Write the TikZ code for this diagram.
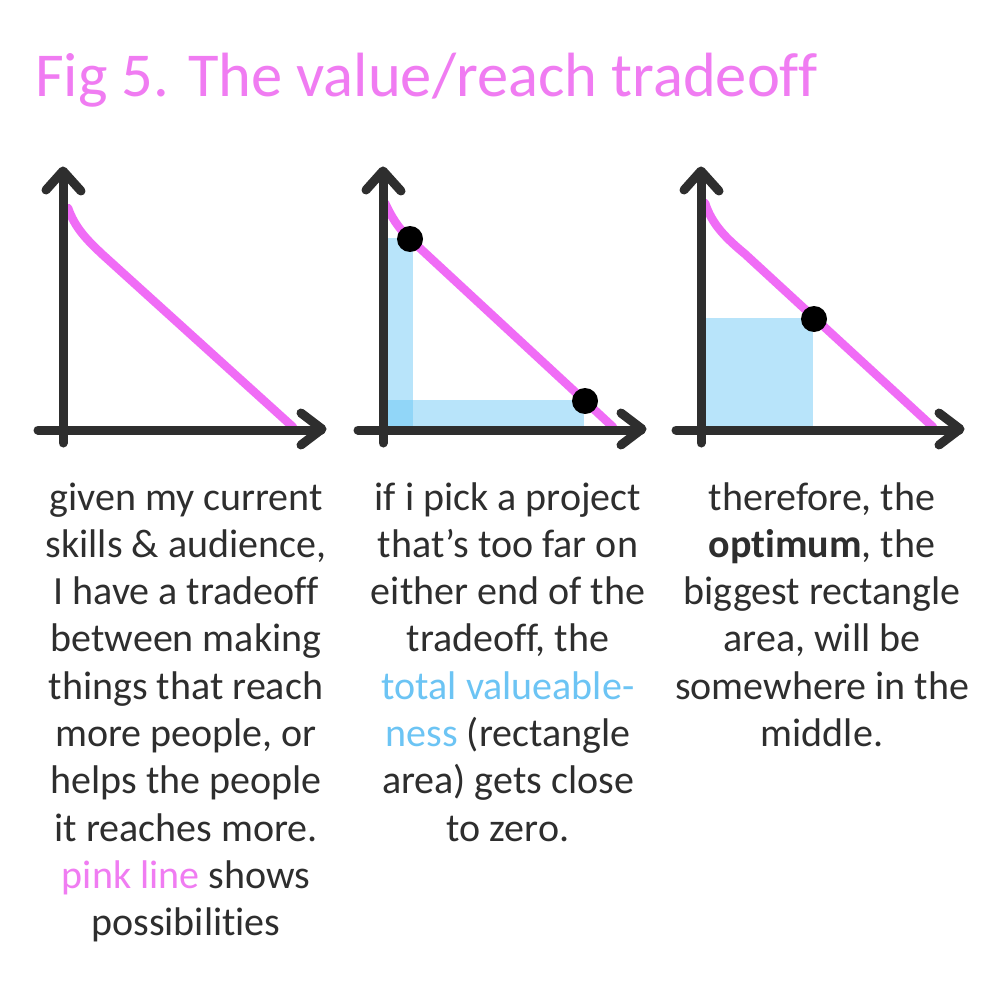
\documentclass[tikz,border=0pt]{standalone}
\usepackage{fontspec}
\setmainfont[Ligatures=NoCommon]{Carlito}
\definecolor{ink}{HTML}{2E2E2E}
\definecolor{pinkc}{HTML}{F06CF6}
\definecolor{pinkt}{HTML}{F07CF2}
\definecolor{bluet}{HTML}{6CC4F4}
\definecolor{areac}{RGB}{99,197,246}
\begin{document}
\begin{tikzpicture}[x=1pt,y=-1pt,
  axis/.style={draw=ink, line width=9pt, line cap=round, line join=round},
  curve/.style={draw=pinkc, line width=8.5pt, line cap=round},
  dot/.style={circle, fill=black, minimum size=26pt, inner sep=0pt},
  area/.style={fill=areac, fill opacity=0.45},
  txt/.style={anchor=base, inner sep=0pt, font=\fontsize{40}{47}\selectfont, text=ink}]
\useasboundingbox (0,0) rectangle (1000,1000);
\fill[white] (0,0) rectangle (1000,1000);

% title
\node[anchor=base west, inner sep=0pt, text=pinkt, font=\fontsize{62.5}{70}\selectfont] (title) at (35,97) {Fig 5. The value/reach tradeoff};

% panel 1
\begin{scope}[shift={(63,0)}]
  \coordinate (o1) at (0,430);
  \draw[curve] (5,208) .. controls (12,228) and (24,240) .. (40,255) -- (230,427);
  \draw[axis] (0,443) -- (0,172);
  \draw[axis] (-17,190) -- (0,171) -- (18,191);
  \draw[axis] (-25,430) -- (258,430);
  \draw[axis] (238,413) -- (259,429) -- (238,445);
\end{scope}

% panel 2
\begin{scope}[shift={(383,0)}]
  \coordinate (o2) at (0,430);
  \fill[area] (2,238) rectangle (30,427);
  \fill[area] (2,400) rectangle (201,427);
  \draw[curve] (2,203) .. controls (8,216) and (15,228) .. (27,239) -- (230,427);
  \draw[axis] (0,443) -- (0,172);
  \draw[axis] (-17,190) -- (0,171) -- (18,191);
  \draw[axis] (-25,430) -- (258,430);
  \draw[axis] (238,413) -- (259,429) -- (238,445);
  \node[dot] (d21) at (27,239) {};
  \node[dot] (d22) at (202,401) {};
\end{scope}

% panel 3
\begin{scope}[shift={(701,0)}]
  \coordinate (o3) at (0,430);
  \fill[area] (3,318) rectangle (112,427);
  \draw[curve] (4,203) .. controls (11,225) and (26,239) .. (44,254) -- (232,427);
  \draw[axis] (0,443) -- (0,172);
  \draw[axis] (-17,190) -- (0,171) -- (18,191);
  \draw[axis] (-25,430) -- (258,430);
  \draw[axis] (238,413) -- (259,429) -- (238,445);
  \node[dot] (d31) at (113,319) {};
\end{scope}

% texts
\foreach \i/\t in {0/{given my current}, 1/{skills \& audience,}, 2/{I have a tradeoff},
  3/{between making}, 4/{things that reach}, 5/{more people, or}, 6/{helps the people},
  7/{it reaches more.}, 8/{\textcolor{pinkt}{pink line} shows}, 9/{possibilities}}
  \node[txt] (ta\i) at (186,{510+47.3*\i}) {\t};

\foreach \i/\t in {0/{if i pick a project}, 1/{that's too far on}, 2/{either end of the},
  3/{tradeoff, the}, 4/{\textcolor{bluet}{total valueable-}}, 5/{\textcolor{bluet}{ness} (rectangle},
  6/{area) gets close}, 7/{to zero.}}
  \node[txt] (tb\i) at (508,{510+47.3*\i}) {\t};

\foreach \i/\t in {0/{therefore, the}, 1/{\textbf{optimum}, the}, 2/{biggest rectangle},
  3/{area, will be}, 4/{somewhere in the}, 5/{middle.}}
  \node[txt] (tc\i) at (822,{510+47.3*\i}) {\t};
\end{tikzpicture}
\end{document}
